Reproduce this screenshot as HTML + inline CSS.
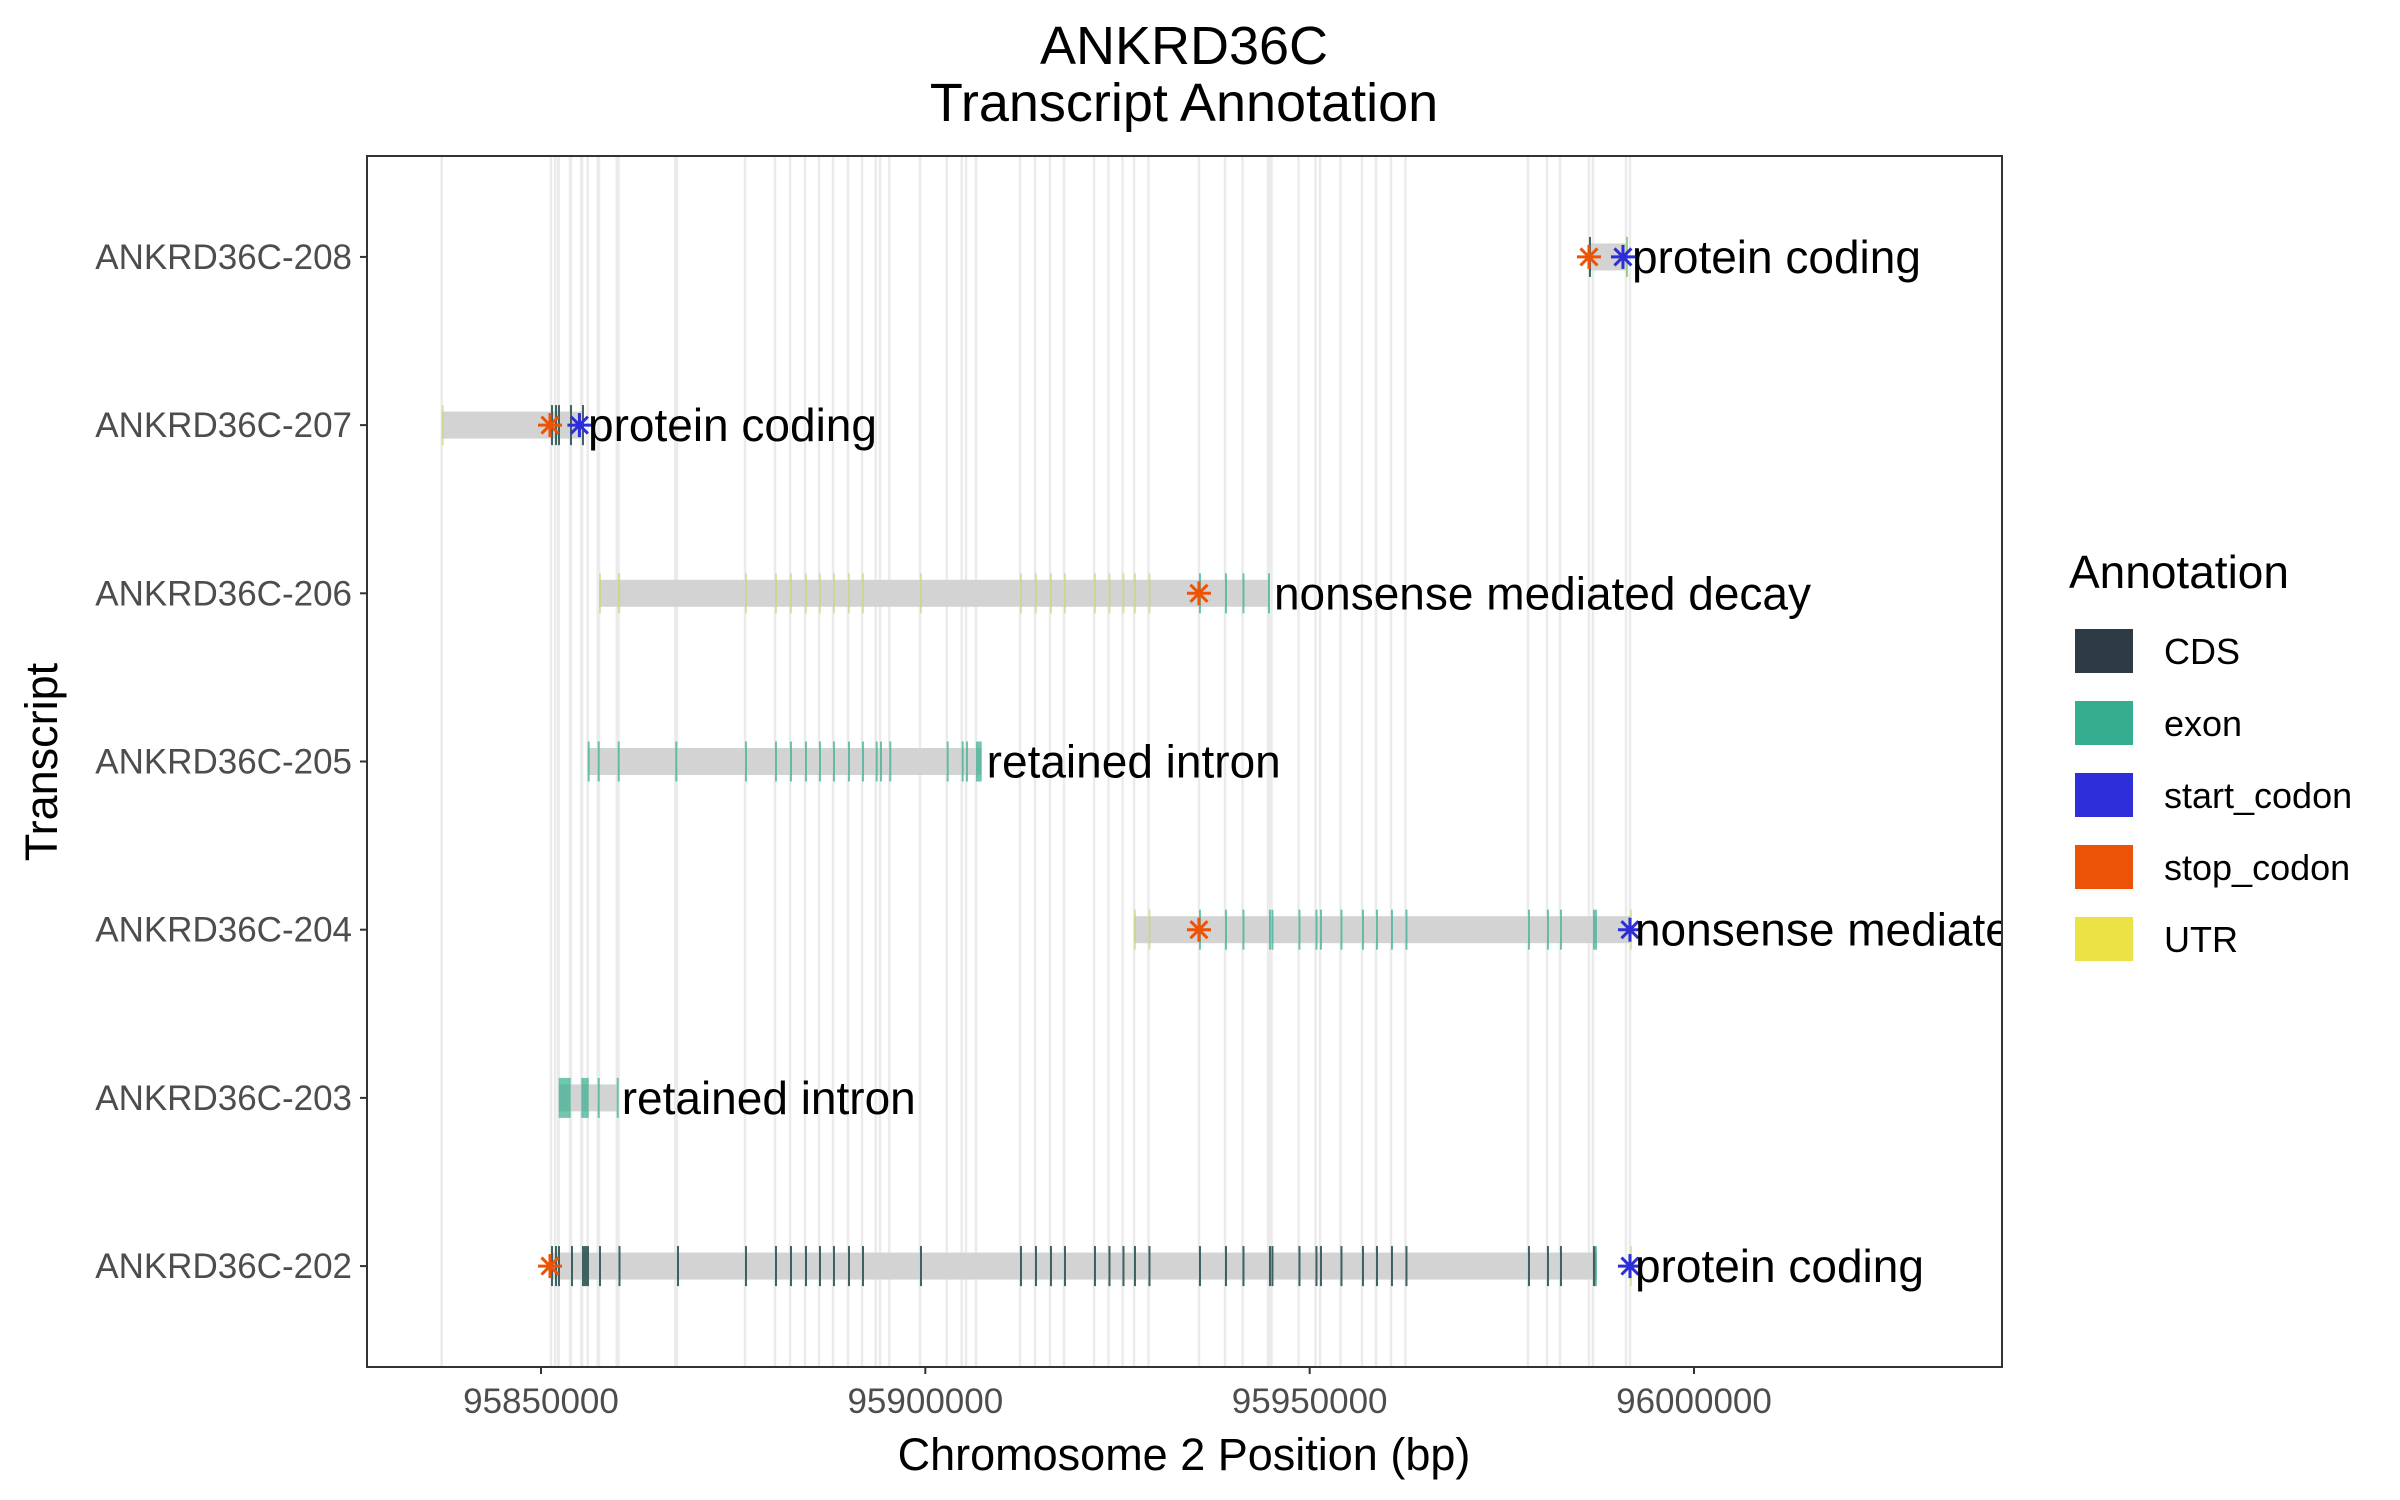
<!DOCTYPE html>
<html><head><meta charset="utf-8">
<style>
html,body{margin:0;padding:0;background:#fff;}
svg{display:block;font-family:"Liberation Sans",Arial,sans-serif;}
</style></head>
<body>
<svg id="chart" width="2400" height="1500" viewBox="0 0 2400 1500">
  <defs><clipPath id="panelClip"><rect x="367" y="156" width="1635" height="1211"/></clipPath></defs>
  <text x="1184" y="64" text-anchor="middle" font-size="54" fill="#000">ANKRD36C</text>
  <text x="1184" y="121" text-anchor="middle" font-size="54" fill="#000">Transcript Annotation</text>
  <rect x="367" y="156" width="1635" height="1211" fill="#fff"/>
  <g id="grid"></g>
  <g id="marks" clip-path="url(#panelClip)"></g>
  <rect x="367" y="156" width="1635" height="1211" fill="none" stroke="#333" stroke-width="2"/>
  <g id="axes"></g>
  <text x="1184" y="1470" text-anchor="middle" font-size="45" fill="#000">Chromosome 2 Position (bp)</text>
  <text transform="translate(57,762) rotate(-90)" text-anchor="middle" font-size="45" fill="#000">Transcript</text>
  <g>
    <text x="2069" y="588" font-size="46" fill="#000">Annotation</text>
    <g id="legend-items"></g>
  </g>
</svg>
<script>
// ---- data ----
const transcripts = ["ANKRD36C-208","ANKRD36C-207","ANKRD36C-206","ANKRD36C-205","ANKRD36C-204","ANKRD36C-203","ANKRD36C-202"];
const biotypes = ["protein coding","protein coding","nonsense mediated decay","retained intron","nonsense mediated decay","retained intron","protein coding"];
const barStart = [95986334, 95837082, 95857545, 95856075, 95927143, 95852303, 95851301];
const barEnd   = [95991278, 95855464, 95944706, 95907331, 95991668, 95859848, 95987375];
const exonStarts = [
  [95986334, 95991150],
  [95851301, 95851821, 95852212, 95853773, 95855334],
  [95935599, 95938982, 95941258, 95944580],
  [95856075, 95857376, 95859978, 95867471, 95876538, 95880441, 95882392, 95884344, 95886165, 95887986, 95889938, 95891759, 95893541, 95894101, 95895310, 95902778, 95904729, 95905288, 95906589],
  [95935599, 95938982, 95941258, 95944706, 95945031, 95948543, 95950755, 95951340, 95954007, 95956804, 95958625, 95960577, 95962463, 95978399, 95980871, 95982562, 95986855],
  [95852303, 95855243, 95857376, 95859848],
  [95851301, 95851821, 95852212, 95853903, 95855334, 95857545, 95860082, 95867692, 95876538, 95880441, 95882392, 95884344, 95886165, 95887986, 95889938, 95891759, 95899304, 95912313, 95914264, 95916216, 95918037, 95921940, 95923826, 95925647, 95927143, 95929030, 95935599, 95938982, 95941258, 95944706, 95945031, 95948543, 95950755, 95951340, 95954007, 95956804, 95958625, 95960577, 95962463, 95978399, 95980871, 95982562, 95986855]
];
const exonEnds = [
  [95986500, 95991278],
  [95851450, 95851970, 95852360, 95853920, 95855464],
  [95935750, 95939130, 95941400, 95944706],
  [95856300, 95857600, 95860200, 95867620, 95876690, 95880590, 95882540, 95884490, 95886310, 95888130, 95890090, 95891900, 95893690, 95894250, 95895460, 95902930, 95904880, 95905440, 95907331],
  [95935750, 95939130, 95941400, 95944860, 95945180, 95948690, 95950900, 95951490, 95954160, 95956950, 95958780, 95960730, 95962610, 95978550, 95981020, 95982710, 95987375],
  [95853864, 95856205, 95857530, 95860000],
  [95851450, 95851970, 95852360, 95854050, 95856244, 95857700, 95860230, 95867840, 95876690, 95880590, 95882540, 95884490, 95886310, 95888130, 95890090, 95891900, 95899450, 95912460, 95914410, 95916360, 95918180, 95922090, 95923970, 95925800, 95927290, 95929180, 95935750, 95939130, 95941400, 95944860, 95945180, 95948690, 95950900, 95951490, 95954160, 95956950, 95958780, 95960730, 95962610, 95978550, 95981020, 95982710, 95987375]
];
const cdsStarts = [
  [95986334],
  [95851301, 95851821, 95852212, 95853773, 95855334],
  [], [], [], [],
  [95851301, 95851821, 95852212, 95853903, 95855334, 95857545, 95860082, 95867692, 95876538, 95880441, 95882392, 95884344, 95886165, 95887986, 95889938, 95891759, 95899304, 95912313, 95914264, 95916216, 95918037, 95921940, 95923826, 95925647, 95927143, 95929030, 95935599, 95938982, 95941258, 95944706, 95945031, 95948543, 95950755, 95951340, 95954007, 95956804, 95958625, 95960577, 95962463, 95978399, 95980871, 95982562, 95986855]
];
const cdsLengths = [
  [160],
  [150, 150, 150, 150, 130],
  [], [], [], [],
  [150,150,150,150,910,150,150,150,150,150,150,150,150,150,150,150,150,150,150,150,150,150,150,150,150,150,150,150,150,150,150,150,150,150,150,150,150,150,150,150,150,150,300]
];
const utrStarts = [
  [95991150],
  [95837082],
  [95857545, 95859978, 95876538, 95880441, 95882392, 95884344, 95886165, 95887986, 95889938, 95891759, 95899304, 95912313, 95914264, 95916216, 95918037, 95921940, 95923826, 95925647, 95927143, 95929030],
  [],
  [95927143, 95929030, 95991668],
  [],
  [95991668]
];
const utrLengths = [
  [130],
  [150],
  [150, 330, 150, 150, 150, 150, 150, 150, 150, 150, 150, 150, 150, 150, 150, 150, 150, 150, 150, 150],
  [],
  [150, 150, 150],
  [],
  [150]
];
const stopCodons = [95986334, 95851171, 95935599, null, 95935599, null, 95851171];
const startCodons = [95990758, 95855000, null, null, 95991668, null, 95991668];
const xTicks = [95850000, 95900000, 95950000, 96000000];
const legendLabels = ["CDS","exon","start_codon","stop_codon","UTR"];
const legendColors = ["#2e3a44","#35ae8f","#2d2dd9","#ec5306","#ebe345"];

// ---- scales ----
const NS = "http://www.w3.org/2000/svg";
const X0 = 367, X1 = 2002, D0 = 95827364, D1 = 96040069;
function xs(v){ return X0 + (v - D0) / (D1 - D0) * (X1 - X0); }
function ys(i){ return 156 + (0.6 + i) * (1211 / 7.2); }
function mk(tag, attrs, parent){ const e = document.createElementNS(NS, tag); for (const k in attrs) e.setAttribute(k, attrs[k]); parent.appendChild(e); return e; }

const grid = document.getElementById('grid');
const marks = document.getElementById('marks');
const axes = document.getElementById('axes');

const gridPos = new Set();
exonStarts.forEach(a => a.forEach(v => gridPos.add(v)));
utrStarts.forEach(a => a.forEach(v => gridPos.add(v)));
gridPos.forEach(v => {
  const g = mk('line', {x1: xs(v), x2: xs(v), y1: 157, y2: 1366, stroke: '#ebebeb', 'stroke-width': 2.5}, grid);
  
  
});

function featureRect(s, e, i, color, op, name){
  const x = xs(s); let w = xs(e) - x; if (w < 2) w = 2;
  const r = mk('rect', {x: x, y: ys(i) - 20, width: w, height: 40, fill: color, 'fill-opacity': op}, marks);
  
  
}
function star(v, i, color, name){
  const cx = xs(v), cy = ys(i), r = 12, d = r * 0.7071;
  const g = mk('g', {stroke: color, 'stroke-width': 3}, marks);
  
  
  mk('line', {x1: cx - r, y1: cy, x2: cx + r, y2: cy}, g);
  mk('line', {x1: cx, y1: cy - r, x2: cx, y2: cy + r}, g);
  mk('line', {x1: cx - d, y1: cy - d, x2: cx + d, y2: cy + d}, g);
  mk('line', {x1: cx - d, y1: cy + d, x2: cx + d, y2: cy - d}, g);
}

transcripts.forEach((t, i) => {
  const b = mk('rect', {x: xs(barStart[i]), y: ys(i) - 13.5, width: xs(barEnd[i]) - xs(barStart[i]), height: 27, fill: '#d3d3d3'}, marks);
  
  
  exonStarts[i].forEach((s, k) => featureRect(s, exonEnds[i][k], i, '#35ae8f', 0.7, 'exon-mark'));
  cdsStarts[i].forEach((s, k) => featureRect(s, s + cdsLengths[i][k], i, '#2e3a44', 0.7, 'cds-mark'));
  utrStarts[i].forEach((s, k) => featureRect(s, s + utrLengths[i][k], i, '#c5d96a', 0.6, 'utr-mark'));
  if (stopCodons[i] !== null) star(stopCodons[i], i, '#ec5306', 'stop-codon-marker');
  if (startCodons[i] !== null) star(startCodons[i], i, '#2d2dd9', 'start-codon-marker');
  let lx = Math.max(xs(barEnd[i]), startCodons[i] !== null ? xs(startCodons[i]) : 0) + 5;
  const lab = mk('text', {x: lx, y: ys(i) + 16, 'font-size': 46, fill: '#000'}, marks);
  lab.textContent = biotypes[i];
  
  
  mk('line', {x1: 360, x2: 367, y1: ys(i), y2: ys(i), stroke: '#333', 'stroke-width': 2}, axes);
  const yl = mk('text', {x: 352, y: ys(i) + 12, 'text-anchor': 'end', 'font-size': 35, fill: '#4d4d4d'}, axes);
  yl.textContent = t;
  
  
});

xTicks.forEach(v => {
  mk('line', {x1: xs(v), x2: xs(v), y1: 1367, y2: 1374, stroke: '#333', 'stroke-width': 2}, axes);
  const tl = mk('text', {x: xs(v), y: 1413, 'text-anchor': 'middle', 'font-size': 35, fill: '#4d4d4d'}, axes);
  tl.textContent = String(v);
  
  
});

const leg = document.getElementById('legend-items');
legendLabels.forEach((l, k) => {
  const y = 629 + k * 72;
  const r = mk('rect', {x: 2075, y: y, width: 58, height: 44, fill: legendColors[k]}, leg);
  
  
  const tx = mk('text', {x: 2164, y: y + 35, 'font-size': 36, fill: '#000'}, leg);
  tx.textContent = l;
  
  
});
</script>
</body></html>
